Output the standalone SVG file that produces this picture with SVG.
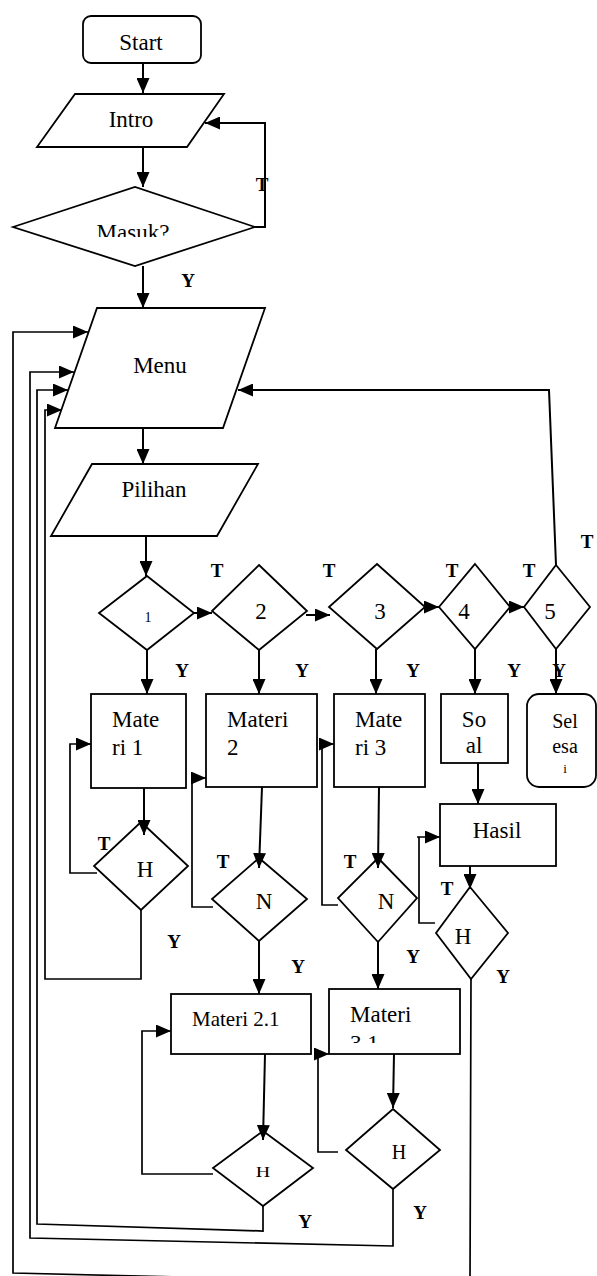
<svg xmlns="http://www.w3.org/2000/svg" width="597" height="1276" viewBox="0 0 597 1276">
<style>
.s{fill:#fff;stroke:#000;stroke-width:1.8}
.c{fill:none;stroke:#000;stroke-width:2}
.l{fill:none;stroke:#000;stroke-width:1.7}
.t{font-family:"Liberation Serif","Times New Roman",serif;font-size:23px;fill:#000}
.m{text-anchor:middle}
.b{font-family:"Liberation Serif","Times New Roman",serif;font-size:19px;font-weight:bold;fill:#000;text-anchor:middle}
</style>
<defs>
<marker id="a" markerUnits="userSpaceOnUse" markerWidth="15" markerHeight="13" refX="15" refY="6.5" orient="auto">
<path d="M0,0 L15,6.5 L0,13 z" fill="#000"/>
</marker>
<clipPath id="cm"><rect x="0" y="200" width="300" height="37"/></clipPath>
<clipPath id="c31"><rect x="329" y="989" width="131" height="54"/></clipPath>
</defs>
<g id="start"><rect class="s" x="83" y="16" width="118" height="47" rx="8"/><text class="t m" x="141" y="50">Start</text></g>
<g id="intro"><polygon class="s" points="75,94 224,94 187,147 37,147"/><text class="t m" x="131" y="127">Intro</text></g>
<g id="masuk"><polygon class="s" points="13,227 135,187 255,227 135,266"/><text class="t m" x="133" y="240" clip-path="url(#cm)">Masuk?</text></g>
<g id="menu"><polygon class="s" points="97,308 265,308 223,428 55,428"/><text class="t m" x="160" y="373">Menu</text></g>
<g id="pilihan"><polygon class="s" points="92,464 258,464 217,536 51,536"/><text class="t m" x="154" y="497">Pilihan</text></g>
<g id="d1"><polygon class="s" points="147,576 194,613 147,650 99,613"/><text class="t m" x="148" y="622" style="font-size:14px">1</text></g>
<g id="d2"><polygon class="s" points="259,565 307,611 259,650 212,611"/><text class="t m" x="261" y="619">2</text></g>
<g id="d3"><polygon class="s" points="377,564 425,607 377,649 329,607"/><text class="t m" x="380" y="619">3</text></g>
<g id="d4"><polygon class="s" points="475,564 510,607 475,649 439,607"/><text class="t m" x="464" y="619">4</text></g>
<g id="d5"><polygon class="s" points="556,565 590,607 556,649 524,607"/><text class="t m" x="550" y="619">5</text></g>
<g id="materi1"><rect class="s" x="91" y="694" width="95" height="94"/><text class="t" x="112" y="727">Mate</text><text class="t" x="112" y="755">ri 1</text></g>
<g id="materi2"><rect class="s" x="206" y="694" width="111" height="93"/><text class="t" x="227" y="727">Materi</text><text class="t" x="227" y="755">2</text></g>
<g id="materi3"><rect class="s" x="334" y="694" width="91" height="93"/><text class="t" x="355" y="727">Mate</text><text class="t" x="355" y="755">ri 3</text></g>
<g id="soal"><rect class="s" x="441" y="694" width="67" height="69"/><text class="t m" x="474" y="727">So</text><text class="t m" x="474" y="753">al</text></g>
<g id="selesai"><rect class="s" x="527" y="694" width="69" height="93" rx="12"/><text class="t m" x="565" y="728" style="font-size:20px">Sel</text><text class="t m" x="565" y="753" style="font-size:20px">esa</text><text class="t m" x="565" y="773" style="font-size:13px">i</text></g>
<g id="hasil"><rect class="s" x="440" y="804" width="116" height="62"/><text class="t m" x="497" y="838">Hasil</text></g>
<g id="h1"><polygon class="s" points="141,822 188,866 141,910 94,866"/><text class="t m" x="145" y="877">H</text></g>
<g id="n2"><polygon class="s" points="259,858 307,899 259,941 212,899"/><text class="t m" x="264" y="909">N</text></g>
<g id="n3"><polygon class="s" points="378,858 417,898 378,942 338,898"/><text class="t m" x="386" y="909">N</text></g>
<g id="hh"><polygon class="s" points="470,887 508,933 471,979 436,933"/><text class="t m" x="463" y="944">H</text></g>
<g id="materi21"><rect class="s" x="171" y="994" width="140" height="60"/><text class="t" x="192" y="1026" style="font-size:21px">Materi 2.1</text></g>
<g id="materi31"><rect class="s" x="329" y="989" width="131" height="65"/><g clip-path="url(#c31)"><text class="t" x="350" y="1022">Materi</text><text class="t" x="350" y="1051">3.1</text></g></g>
<g id="h21"><polygon class="s" points="263,1131 313,1168 263,1206 213,1168"/><text class="t m" transform="translate(263,1177) scale(1,0.7)" style="font-size:20px">H</text></g>
<g id="h31"><polygon class="s" points="393,1109 440,1150 393,1189 346,1150"/><text class="t m" x="399" y="1159" style="font-size:20px">H</text></g>
<g id="connectors">
<path class="c" d="M143,63 V93" marker-end="url(#a)"/>
<path class="c" d="M143,147 V187" marker-end="url(#a)"/>
<path class="c" d="M255,227 H265 V123 H205" marker-end="url(#a)"/>
<path class="c" d="M143,266 V308" marker-end="url(#a)"/>
<path class="c" d="M143,428 V464" marker-end="url(#a)"/>
<path class="c" d="M146,536 V576" marker-end="url(#a)"/>
<path class="c" d="M194,613 H212" marker-end="url(#a)"/>
<path class="c" d="M306,615 H330" marker-end="url(#a)"/>
<path class="c" d="M425,607 H439" marker-end="url(#a)"/>
<path class="c" d="M510,607 H524" marker-end="url(#a)"/>
<path class="c" d="M556,565 L549,390 H238" marker-end="url(#a)"/>
<path class="c" d="M147,650 V694" marker-end="url(#a)"/>
<path class="c" d="M259,650 V694" marker-end="url(#a)"/>
<path class="c" d="M376,649 V694" marker-end="url(#a)"/>
<path class="c" d="M475,649 V694" marker-end="url(#a)"/>
<path class="c" d="M556,649 V694" marker-end="url(#a)"/>
<path class="c" d="M144,788 V835" marker-end="url(#a)"/>
<path class="l" d="M97,873 H70 V744 H91" marker-end="url(#a)"/>
<path class="l" d="M141,910 V979 H45 V410 H62" marker-end="url(#a)"/>
<path class="c" d="M262,787 L259,868" marker-end="url(#a)"/>
<path class="l" d="M213,907 H192 V778 H206" marker-end="url(#a)"/>
<path class="c" d="M259,941 V994" marker-end="url(#a)"/>
<path class="c" d="M379,787 L378,868" marker-end="url(#a)"/>
<path class="l" d="M338,905 H322 V744 H334" marker-end="url(#a)"/>
<path class="c" d="M378,942 V989" marker-end="url(#a)"/>
<path class="c" d="M478,763 V804" marker-end="url(#a)"/>
<path class="c" d="M470,866 V889" marker-end="url(#a)"/>
<path class="l" d="M435,923 H419 V837 H417 M419,837 H440" marker-end="url(#a)"/>
<path class="l" d="M471,979 L470,1284 L13,1273 V332 H88" marker-end="url(#a)"/>
<path class="c" d="M265,1054 L263,1140" marker-end="url(#a)"/>
<path class="l" d="M213,1174 H142 V1031 H171" marker-end="url(#a)"/>
<path class="l" d="M263,1206 V1231 L37,1224 V390 H68" marker-end="url(#a)"/>
<path class="c" d="M394,1054 L393,1108" marker-end="url(#a)"/>
<path class="l" d="M338,1152 H318 V1054 H329" marker-end="url(#a)"/>
<path class="l" d="M393,1189 V1246 L30,1238 V372 H74" marker-end="url(#a)"/>
</g>
<g id="labels">
<text class="b" x="262" y="191">T</text>
<text class="b" x="188" y="287">Y</text>
<text class="b" x="217" y="577">T</text>
<text class="b" x="329" y="577">T</text>
<text class="b" x="452" y="577">T</text>
<text class="b" x="529" y="577">T</text>
<text class="b" x="587" y="548">T</text>
<text class="b" x="182" y="677">Y</text>
<text class="b" x="302" y="677">Y</text>
<text class="b" x="413" y="677">Y</text>
<text class="b" x="514" y="677">Y</text>
<text class="b" x="559" y="677">Y</text>
<text class="b" x="104" y="850">T</text>
<text class="b" x="174" y="948">Y</text>
<text class="b" x="223" y="868">T</text>
<text class="b" x="350" y="868">T</text>
<text class="b" x="447" y="895">T</text>
<text class="b" x="298" y="973">Y</text>
<text class="b" x="413" y="963">Y</text>
<text class="b" x="503" y="983">Y</text>
<text class="b" x="305" y="1228">Y</text>
<text class="b" x="420" y="1219">Y</text>
</g>
</svg>
